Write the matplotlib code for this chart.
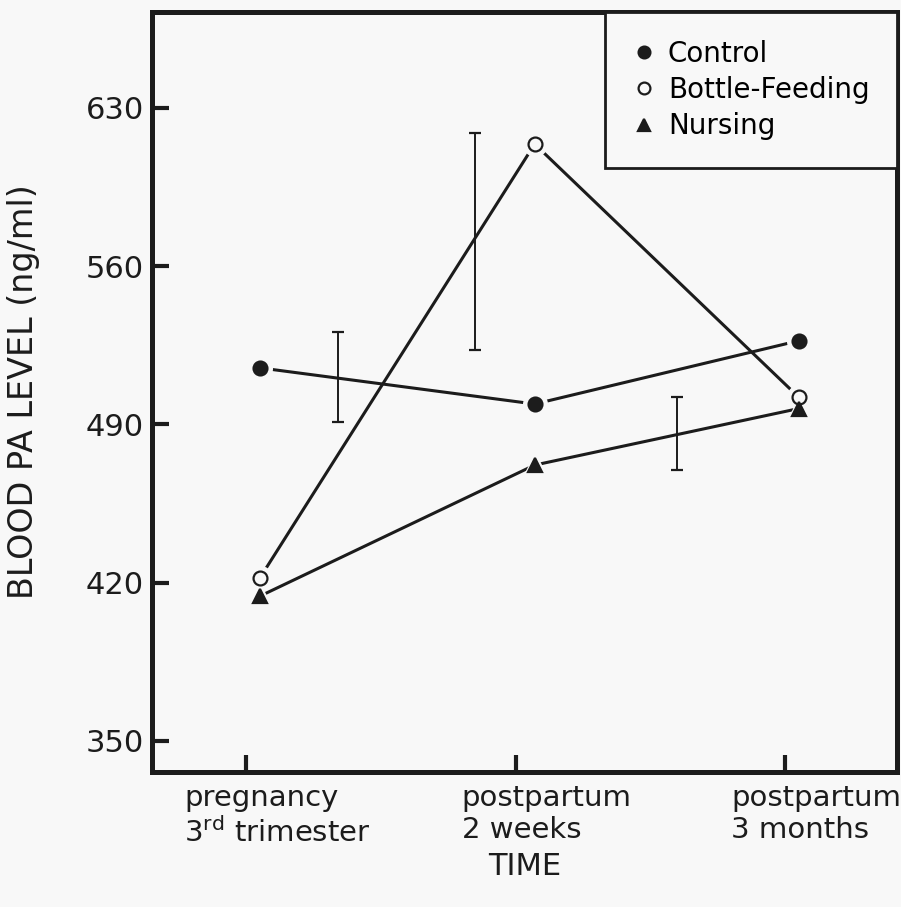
import numpy as np
import matplotlib.pyplot as plt

# time axis categories
time_ticks = [0, 1, 2]
time_labels = ['pregnancy\n3$^{\\rm rd}$ trimester',
               'postpartum\n2 weeks',
               'postpartum\n3 months']

# points are drawn a bit right of the ticks in the original
point_x = [0.05, 1.07, 2.05]

# blood PA level (ng/ml)
control = [515, 499, 527]
bottle_feeding = [422, 614, 502]
nursing = [414, 472, 497]

# standalone error bars between the time points
err_x = [0.34, 0.85, 1.60]
err_mid = [511, 571, 486]
err_half = [20, 48, 16]

y_ticks = [350, 420, 490, 560, 630]

bg = '#f8f8f8'
ink = '#1c1c1c'

plt.rcParams['mathtext.default'] = 'regular'
plt.rcParams['xtick.direction'] = 'in'
plt.rcParams['ytick.direction'] = 'in'

fig = plt.figure(figsize=(9.01, 9.07), dpi=100, facecolor=bg)
ax = fig.add_axes([0.169, 0.149, 0.827, 0.838], facecolor=bg)

series = [
    (control, 'o', ink, 'Control'),
    (bottle_feeding, 'o', bg, 'Bottle-Feeding'),
    (nursing, '^', ink, 'Nursing'),
]

for vals, mk, face, name in series:
    ax.plot(point_x, vals, color=ink, lw=2.2, zorder=2)
for vals, mk, face, name in series:
    # small gap round each marker, like the hand-drawn figure
    ax.plot(point_x, vals, ls='none', marker=mk, ms=17, mfc=bg, mec=bg, zorder=3)
for vals, mk, face, name in series:
    ax.plot(point_x, vals, ls='none', marker=mk, ms=10, mfc=face, mec=ink,
            mew=1.6, zorder=4, label=name)

ax.errorbar(err_x, err_mid, yerr=err_half, fmt='none', ecolor=ink,
            elinewidth=1.4, capsize=4.5, capthick=1.6, zorder=5)

ax.set_xlim(-0.349, 2.416)
ax.set_ylim(336.3, 672.5)
ax.set_yticks(y_ticks)
ax.set_xticks(time_ticks)
ax.set_xticklabels([])
ax.tick_params(axis='y', which='both', direction='in', length=12, width=3,
               labelsize=22, pad=6, colors=ink)
ax.tick_params(axis='x', which='both', direction='in', length=12, width=3,
               colors=ink)

# tick labels sit a little right of their ticks in the original
for t, lab in zip(time_ticks, time_labels):
    ax.text(t + 0.115, -0.016, lab, transform=ax.get_xaxis_transform(),
            ha='center', va='top', multialignment='left', fontsize=21,
            linespacing=1.2, color=ink)

for s in ax.spines.values():
    s.set_linewidth(3.6)
    s.set_color(ink)

ax.set_ylabel('BLOOD PA LEVEL (ng/ml)', fontsize=24, color=ink)
ax.yaxis.set_label_coords(-0.150, 0.50)
ax.set_xlabel('TIME', fontsize=22, color=ink)
ax.xaxis.set_label_coords(0.50, -0.106)

leg = ax.legend(loc='upper right', borderaxespad=0, fontsize=20, frameon=True,
                fancybox=False, handletextpad=0.45, handlelength=0.8,
                labelspacing=0.3, borderpad=1.0, markerscale=0.85)
leg.get_frame().set_edgecolor(ink)
leg.get_frame().set_linewidth(2)
leg.get_frame().set_facecolor(bg)
leg.get_frame().set_alpha(1)

fig.savefig('out.png', dpi=100, facecolor=bg)
